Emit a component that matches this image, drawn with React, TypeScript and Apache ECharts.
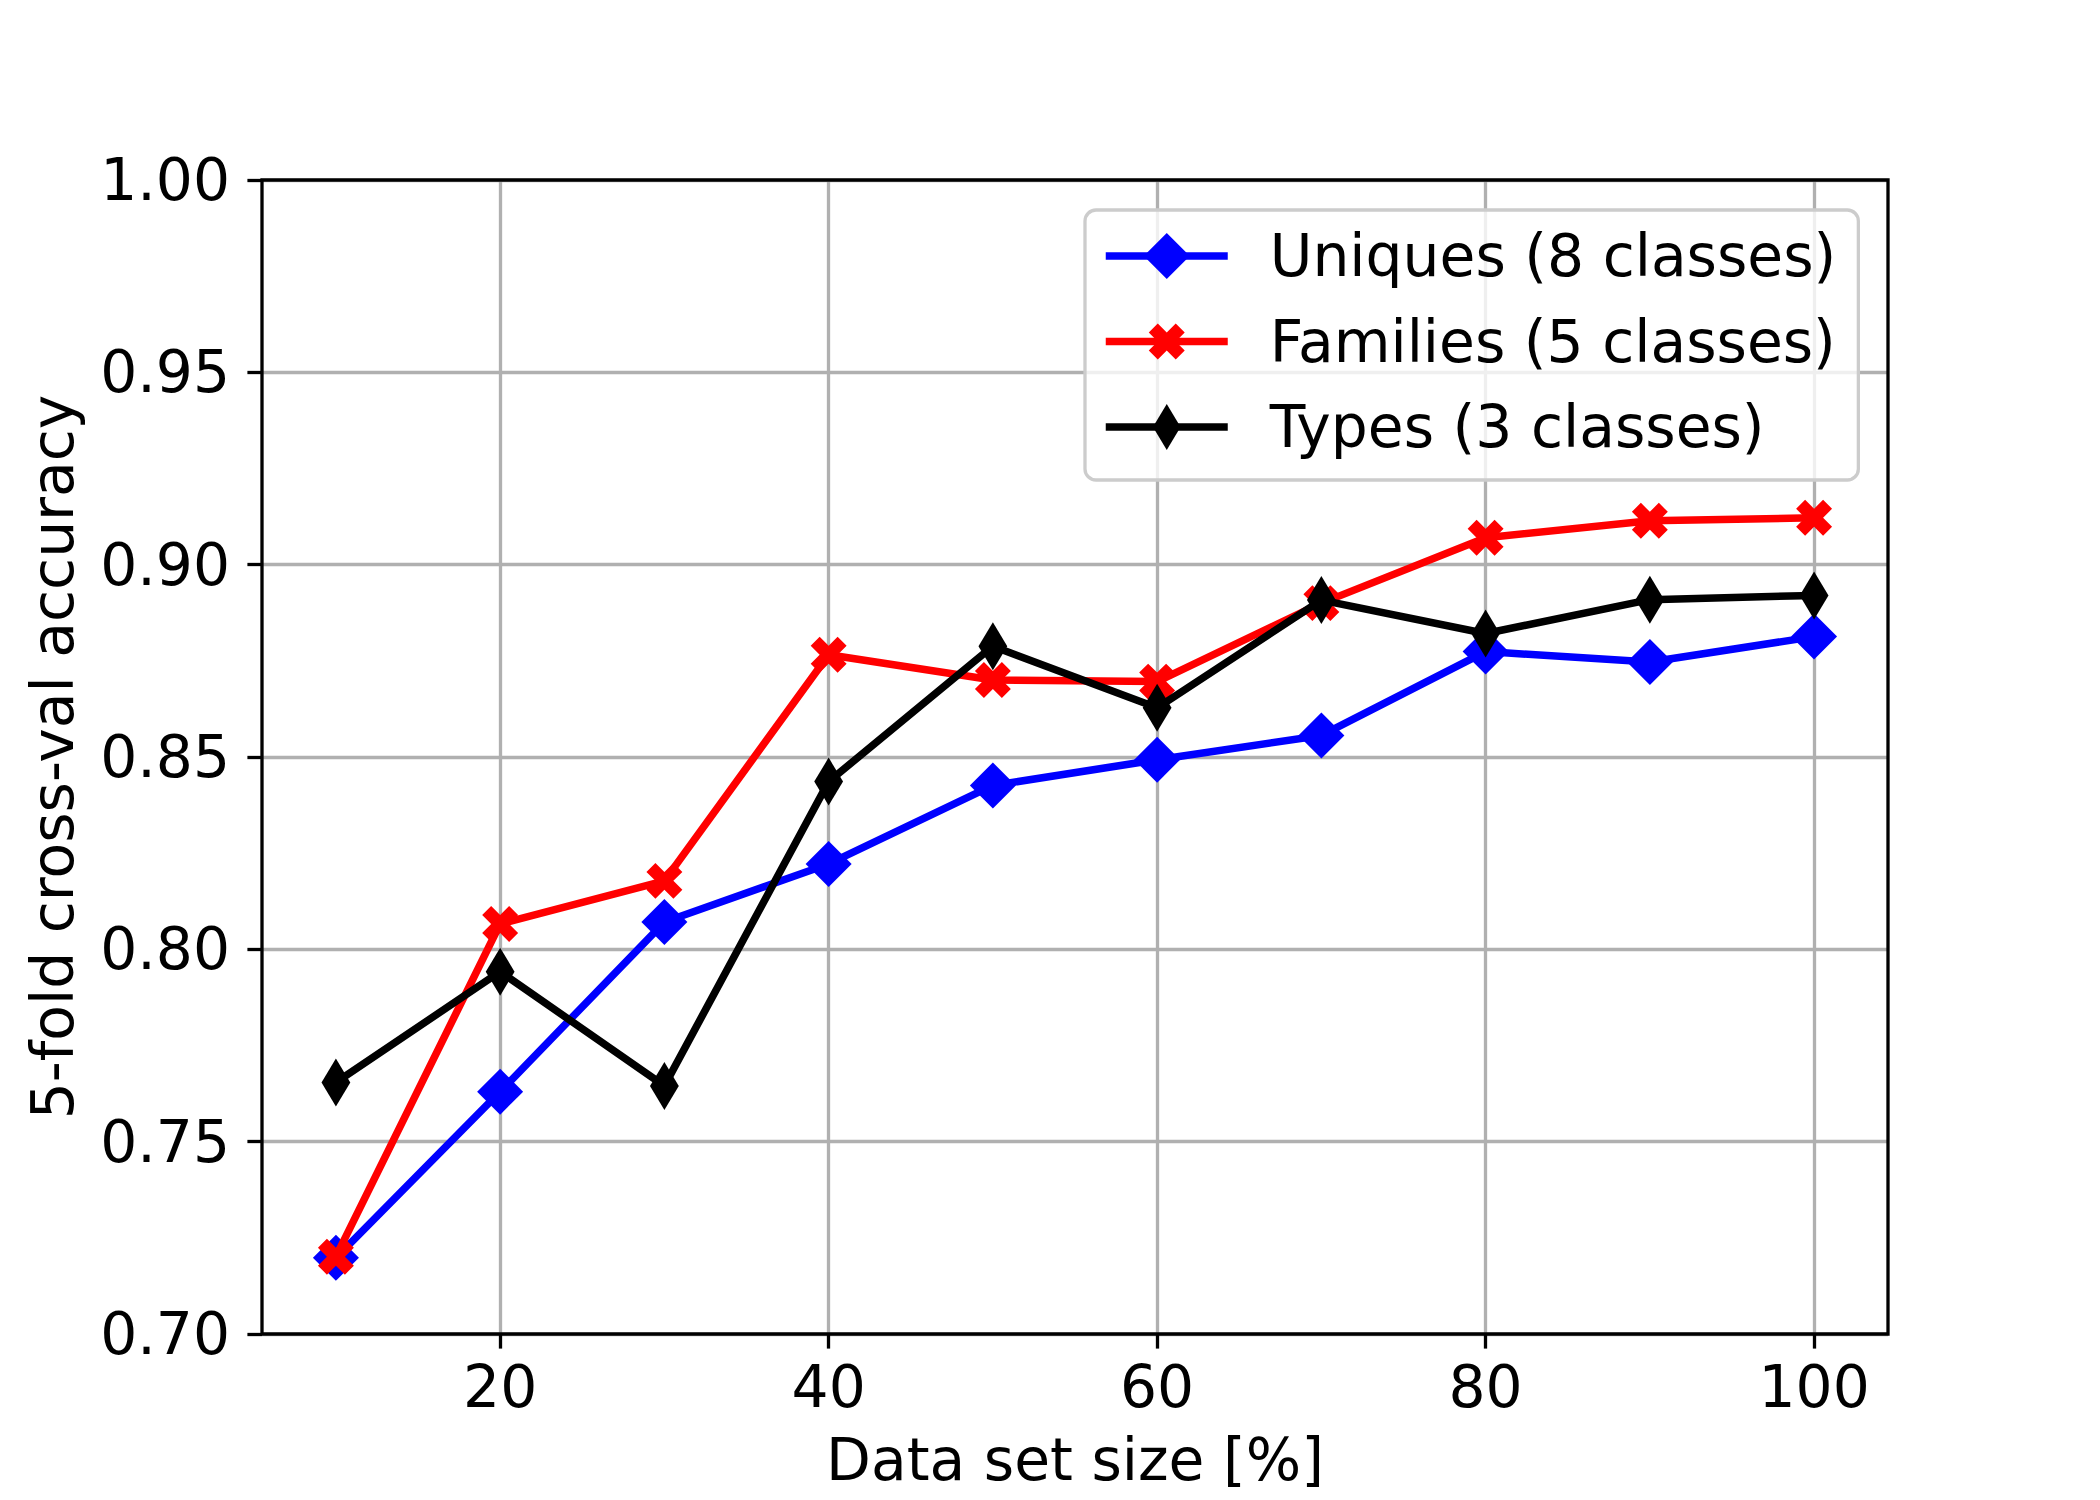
import React, { useEffect, useRef } from "react";
import * as echarts from "echarts";

const sizes = [10, 20, 30, 40, 50, 60, 70, 80, 90, 100];
const uniques = [0.7198, 0.763, 0.8071, 0.8222, 0.8426, 0.8493, 0.8556, 0.8774, 0.8747, 0.8813];
const families = [0.7201, 0.8066, 0.8178, 0.8766, 0.87, 0.8696, 0.89, 0.907, 0.9114, 0.9122];
const types = [0.7654, 0.7942, 0.7645, 0.8436, 0.8788, 0.8628, 0.8908, 0.8821, 0.8909, 0.892];
const seriesNames = ["Uniques (8 classes)", "Families (5 classes)", "Types (3 classes)"];
const xTicks = [20, 40, 60, 80, 100];

const FONT = "DejaVu Sans";
const FS = 58.3;

const X_MARKER = "path://M-0.56,-0.56M4.56,4.56M3,0L4,1L3,2L4,3L3,4L2,3L1,4L0,3L1,2L0,1L1,0L2,1Z";
const THIN_DIAMOND = "path://M0,0M10,10M5,0L8,5L5,10L2,5Z";

export default function App() {
  const ref = useRef<HTMLDivElement>(null);
  useEffect(() => {
    if (!ref.current) return;
    const chart = echarts.init(ref.current, null, { renderer: "svg" });
    const mk = (vals: number[]) => sizes.map((x, i) => [x, vals[i]]);
    const colors = ["#0000ff", "#ff0000", "#000000"];
    const symbols = ["diamond", X_MARKER, THIN_DIAMOND];
    const symSizes = [46, 46, 48];
    const vals = [uniques, families, types];
    chart.setOption({
      animation: false,
      backgroundColor: "#ffffff",
      grid: {
        left: 262,
        right: 212,
        top: 180,
        bottom: 166,
        show: true,
        borderColor: "#000000",
        borderWidth: 3.3,
        backgroundColor: "transparent",
        z: 3,
      },
      legend: {
        orient: "vertical",
        left: 1085,
        top: 210,
        itemWidth: 122,
        itemHeight: 57.5,
        itemGap: 27.5,
        padding: [17, 22, 24, 17],
        backgroundColor: "rgba(255,255,255,0.8)",
        borderColor: "#cccccc",
        borderWidth: 3.3,
        borderRadius: 11,
        lineStyle: { width: 7.5 },
        textStyle: {
          fontFamily: FONT,
          fontSize: FS,
          color: "#000000",
          padding: [0, 0, 0, 37],
        },
        data: seriesNames,
        z: 10,
      },
      xAxis: {
        type: "value",
        min: 5.5,
        max: 104.5,
        splitNumber: 5,
        name: "Data set size [%]",
        nameLocation: "middle",
        nameGap: 97,
        nameTextStyle: { fontFamily: FONT, fontSize: FS, color: "#000000" },
        axisLine: { show: false },
        axisTick: {
          show: true,
          length: 14.6,
          lineStyle: { color: "#000000", width: 3.3 },
          customValues: xTicks,
        },
        axisLabel: {
          fontFamily: FONT,
          fontSize: FS,
          color: "#000000",
          margin: 24,
          customValues: xTicks,
        },
        splitLine: { show: true, lineStyle: { color: "#b0b0b0", width: 3.3 } },
      },
      yAxis: {
        type: "value",
        min: 0.7,
        max: 1.0,
        interval: 0.05,
        name: "5-fold cross-val accuracy",
        nameLocation: "middle",
        nameGap: 180,
        nameTextStyle: { fontFamily: FONT, fontSize: FS, color: "#000000" },
        axisLine: { show: false },
        axisTick: {
          show: true,
          length: 14.6,
          lineStyle: { color: "#000000", width: 3.3 },
        },
        axisLabel: {
          fontFamily: FONT,
          fontSize: FS,
          color: "#000000",
          margin: 32,
          formatter: (v: number) => v.toFixed(2),
        },
        splitLine: { show: true, lineStyle: { color: "#b0b0b0", width: 3.3 } },
      },
      series: seriesNames.map((name, k) => ({
        name,
        type: "line",
        data: mk(vals[k]),
        symbol: symbols[k],
        symbolSize: symSizes[k],
        showAllSymbol: true,
        z: 4 + k,
        lineStyle: { color: colors[k], width: 7.5 },
        itemStyle: { color: colors[k], borderWidth: 0 },
        emphasis: { disabled: true },
      })),
    });
    return () => chart.dispose();
  }, []);
  return (
    <div
      ref={ref}
      style={{ position: "fixed", left: 0, top: 0, width: 2100, height: 1500, background: "#ffffff" }}
    />
  );
}
